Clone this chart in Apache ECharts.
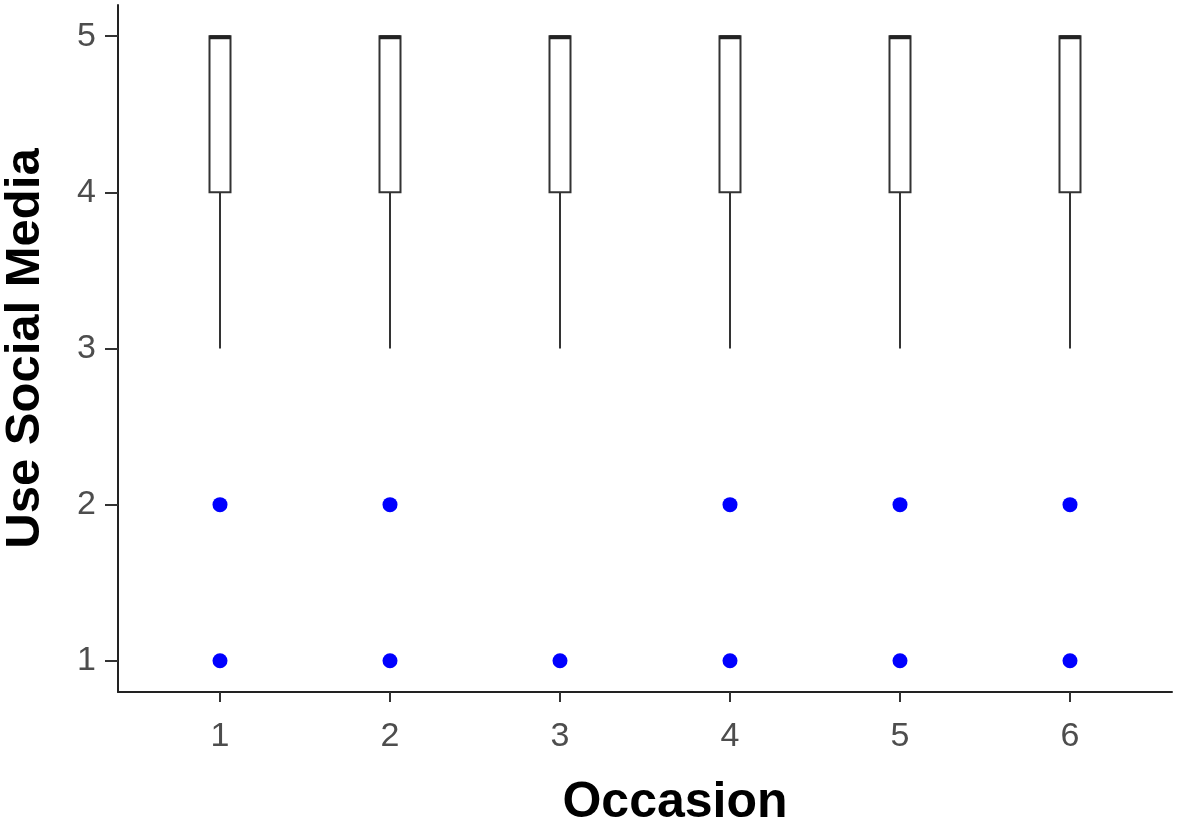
<!DOCTYPE html>
<html>
<head>
<meta charset="utf-8">
<script src="https://cdn.jsdelivr.net/npm/echarts@6/dist/echarts.min.js"></script>
<style>
  html, body { margin: 0; padding: 0; background: #fff; }
  #main { width: 1180px; height: 822px; }
</style>
</head>
<body>
<div id="main"></div>
<script>
// occasions and box stats
const occasions = [1, 2, 3, 4, 5, 6];
const whiskerLow = [3, 3, 3, 3, 3, 3];
const q1 = [4, 4, 4, 4, 4, 4];
const median = [5, 5, 5, 5, 5, 5];
const q3 = [5, 5, 5, 5, 5, 5];
const whiskerHigh = [5, 5, 5, 5, 5, 5];
// outliers per occasion
const outliers = [[1, 2], [1, 2], [1], [1, 2], [1, 2], [1, 2]];
const yTicks = [1, 2, 3, 4, 5];

const boxData = occasions.map((o, i) => [o, whiskerLow[i], q1[i], median[i], q3[i], whiskerHigh[i]]);
const outlierData = [];
occasions.forEach((o, i) => outliers[i].forEach(v => outlierData.push([o, v])));

const BOX_W = 21;

function renderBox(params, api) {
  const x = api.value(0);
  const lo = api.coord([x, api.value(1)]);
  const b1 = api.coord([x, api.value(2)]);
  const md = api.coord([x, api.value(3)]);
  const b3 = api.coord([x, api.value(4)]);
  const hi = api.coord([x, api.value(5)]);
  const half = BOX_W / 2;
  const stroke = { stroke: '#333', lineWidth: 2, fill: null };
  return {
    type: 'group',
    children: [
      { type: 'line', shape: { x1: lo[0], y1: lo[1], x2: b1[0], y2: b1[1] }, style: stroke },
      { type: 'line', shape: { x1: b3[0], y1: b3[1], x2: hi[0], y2: hi[1] }, style: stroke },
      { type: 'rect', shape: { x: b1[0] - half, y: b3[1], width: BOX_W, height: b1[1] - b3[1] },
        style: { stroke: '#333', lineWidth: 2, fill: '#fff' } },
      { type: 'line', shape: { x1: md[0] - half, y1: md[1] + 1, x2: md[0] + half, y2: md[1] + 1 },
        style: { stroke: '#222', lineWidth: 4 } }
    ]
  };
}

const chart = echarts.init(document.getElementById('main'));
chart.setOption({
  animation: false,
  grid: { left: 118, right: 8, top: 5, bottom: 130, outerBoundsMode: 'none', containLabel: false },
  xAxis: {
    type: 'value',
    min: 0.4,
    max: 6.6,
    name: 'Occasion',
    nameLocation: 'middle',
    nameGap: 86,
    nameTextStyle: { fontFamily: 'Liberation Sans', fontSize: 50, fontWeight: 'bold', color: '#000', padding: [0, 0, 0, 60] },
    splitLine: { show: false },
    axisLine: { lineStyle: { color: '#222', width: 2 } },
    axisTick: { customValues: occasions, length: 10, lineStyle: { color: '#333', width: 2 } },
    axisLabel: { customValues: occasions, margin: 28, fontFamily: 'Liberation Sans', fontSize: 34, color: '#4d4d4d' }
  },
  yAxis: {
    type: 'value',
    min: 0.8,
    max: 5.2,
    name: 'Use Social Media',
    nameLocation: 'middle',
    nameGap: 68,
    nameTextStyle: { fontFamily: 'Liberation Sans', fontSize: 49, fontWeight: 'bold', color: '#000' },
    splitLine: { show: false },
    axisLine: { show: true, lineStyle: { color: '#222', width: 2 } },
    axisTick: { show: true, customValues: yTicks, length: 13, lineStyle: { color: '#333', width: 2 } },
    axisLabel: { customValues: yTicks, margin: 22, fontFamily: 'Liberation Sans', fontSize: 34, color: '#4d4d4d' }
  },
  series: [
    {
      type: 'custom',
      renderItem: renderBox,
      data: boxData,
      encode: { x: 0, y: [1, 2, 3, 4, 5] },
      z: 2
    },
    {
      type: 'scatter',
      data: outlierData,
      symbol: 'circle',
      symbolSize: 15,
      itemStyle: { color: '#0000ff', opacity: 1 },
      z: 3
    }
  ]
});
</script>
</body>
</html>
